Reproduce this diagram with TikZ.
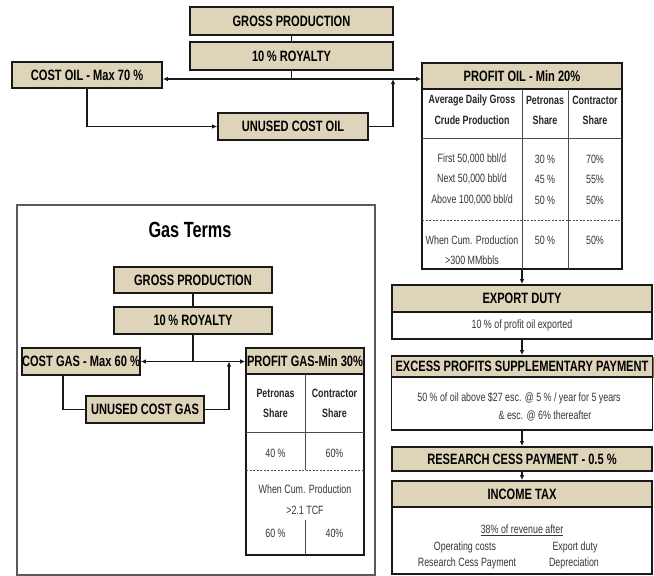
\documentclass[tikz,border=0pt]{standalone}
\usepackage{fontspec}
\setmainfont{Liberation Sans}[FakeStretch=0.74]
\usetikzlibrary{arrows.meta,shadows}
\definecolor{tanfill}{RGB}{222,212,186}
\definecolor{bodytxt}{RGB}{55,55,55}
\definecolor{edgecol}{RGB}{25,25,25}
\definecolor{framecol}{RGB}{90,90,90}
\begin{document}
\begin{tikzpicture}[x=1pt,y=-1pt,
 hdr/.style={draw=edgecol, line width=1.7pt, fill=tanfill, inner sep=0pt, font=\fontsize{15}{17}\selectfont\bfseries, text=black,
   drop shadow={shadow xshift=1pt, shadow yshift=-1pt, opacity=0.55, fill=black}},
 bodybox/.style={draw=edgecol, line width=1.7pt, fill=white, inner sep=0pt},
 txt/.style={inner sep=0pt, font=\fontsize{12}{14}\selectfont, text=bodytxt},
 btxt/.style={inner sep=0pt, font=\fontsize{12}{14}\selectfont\bfseries, text=black!85},
 conn/.style={line width=1.1pt, draw=edgecol},
 arr/.style={conn, -{Latex[length=5pt,width=4.5pt]}},
 gridline/.style={line width=0.9pt, draw=black!70},
 dgridline/.style={gridline, dash pattern=on 2pt off 1.5pt},
 frame/.style={draw=framecol, line width=1.4pt, inner sep=0pt},
]
\fill[white] (0,0) rectangle (654,576);
\useasboundingbox (0,0) rectangle (654,576);

% ---------- Oil terms ----------
\node[hdr, minimum width=203, minimum height=28] (gross) at (291.5,21) {GROSS PRODUCTION};
\node[hdr, minimum width=203, minimum height=28] (royalty) at (291.5,56) {10\,\% ROYALTY};
\node[hdr, minimum width=150, minimum height=26] (costoil) at (87,75) {COST OIL - Max 70 \%};
\node[hdr, minimum width=150, minimum height=27] (unused) at (293,126.5) {UNUSED COST OIL};
\node[hdr, minimum width=200, minimum height=26] (profithdr) at (522,76) {PROFIT OIL - Min 20\%};
\node[bodybox, minimum width=200, minimum height=180] (profittab) at (522,179) {};

\draw[gridline] (422,138) -- (622,138);
\draw[dgridline] (422,220) -- (622,220);
\draw[gridline] (522,89) -- (522,269);
\draw[gridline] (568,89) -- (568,269);

\node[btxt] (h1a) at (472,100) {Average Daily Gross};
\node[btxt] (h1b) at (472,120) {Crude Production};
\node[btxt] (h2a) at (545,100) {Petronas};
\node[btxt] (h2b) at (545,120) {Share};
\node[btxt] (h3a) at (595,100) {Contractor};
\node[btxt] (h3b) at (595,120) {Share};
\node[txt] (r1a) at (472,159) {First 50,000 bbl/d};
\node[txt] (r2a) at (472,179) {Next 50,000 bbl/d};
\node[txt] (r3a) at (472,200) {Above 100,000 bbl/d};
\node[txt] (r1b) at (545,159) {30 \%};
\node[txt] (r2b) at (545,179) {45 \%};
\node[txt] (r3b) at (545,200) {50 \%};
\node[txt] (r1c) at (595,159) {70\%};
\node[txt] (r2c) at (595,179) {55\%};
\node[txt] (r3c) at (595,200) {50\%};
\node[txt] (r4a) at (472,240) {When Cum. Production};
\node[txt] (r4a2) at (472,260) {>300 MMbbls};
\node[txt] (r4b) at (545,240) {50 \%};
\node[txt] (r4c) at (595,240) {50\%};

\draw[conn] (gross.south) -- (royalty.north);
\coordinate (oj) at (291.5,79);
\draw[conn] (royalty.south) -- (oj);
\draw[arr] (oj) -- (oj -| costoil.east);
\draw[arr] (oj) -- (oj -| profithdr.west);
\draw[arr] (costoil.south) |- (unused.west);
\coordinate (ok) at (393,79);
\draw[arr] (unused.east) -| (ok);

% ---------- Right column ----------
\node[hdr, minimum width=260, minimum height=27] (exphdr) at (522,298.5) {EXPORT DUTY};
\node[bodybox, minimum width=260, minimum height=27, txt] (expbody) at (522,325.5) {10 \% of profit oil exported};
\node[hdr, minimum width=261, minimum height=21] (exchdr) at (522,366.5) {EXCESS PROFITS SUPPLEMENTARY PAYMENT};
\node[bodybox, minimum width=261, minimum height=53] (excbody) at (522,403.5) {};
\node[txt] (exc1) at (519,398) {50 \% of oil above \$27 esc. @ 5 \% / year for 5 years};
\node[txt] (exc2) at (545,416) {\& esc. @ 6\% thereafter};
\node[hdr, minimum width=260, minimum height=24] (research) at (522,459) {RESEARCH CESS PAYMENT - 0.5 \%};
\node[hdr, minimum width=260, minimum height=26] (inchdr) at (522,494) {INCOME TAX};
\node[bodybox, minimum width=260, minimum height=67] (incbody) at (522,540.5) {};
\node[txt] (inc0) at (522,530) {\underline{38\% of revenue after}};
\node[txt] (inc1) at (465,547) {Operating costs};
\node[txt] (inc2) at (575,547) {Export duty};
\node[txt] (inc3) at (467,563) {Research Cess Payment};
\node[txt] (inc4) at (574,563) {Depreciation};

\draw[arr] (profittab.south) -- (exphdr.north);
\draw[arr] (expbody.south) -- (exchdr.north);
\draw[arr] (excbody.south) -- (research.north);
\draw[arr] (research.south) -- (inchdr.north);

% ---------- Gas terms ----------
\node[frame, minimum width=358, minimum height=370] (gasframe) at (196,390) {};
\node[inner sep=0pt, font=\fontsize{22}{24}\selectfont\bfseries] (gastitle) at (190,230) {Gas Terms};
\node[hdr, minimum width=158, minimum height=26] (ggross) at (193,280) {GROSS PRODUCTION};
\node[hdr, minimum width=158, minimum height=27] (groyalty) at (193,320.5) {10\,\% ROYALTY};
\node[hdr, minimum width=118, minimum height=27] (costgas) at (81,361.5) {COST GAS - Max 60 \%};
\node[hdr, minimum width=118, minimum height=26] (profitgas) at (305,361) {PROFIT GAS-Min 30\%};
\node[bodybox, minimum width=118, minimum height=181] (gastab) at (305,464.5) {};
\node[hdr, minimum width=118, minimum height=27] (unusedgas) at (145,409.5) {UNUSED COST GAS};

\draw[gridline] (246,432) -- (364,432);
\draw[dgridline] (246,470) -- (364,470);
\draw[gridline] (305,374) -- (305,470);
\draw[gridline] (305,520) -- (305,555);

\node[btxt] (g1a) at (275.5,393) {Petronas};
\node[btxt] (g1b) at (275.5,413) {Share};
\node[btxt] (g2a) at (334.5,393) {Contractor};
\node[btxt] (g2b) at (334.5,413) {Share};
\node[txt] (g3a) at (275.5,453) {40 \%};
\node[txt] (g3b) at (334.5,453) {60\%};
\node[txt] (g4) at (305,489) {When Cum. Production};
\node[txt] (g5) at (305,510) {>2.1 TCF};
\node[txt] (g6a) at (275.5,533) {60 \%};
\node[txt] (g6b) at (334.5,533) {40\%};

\draw[conn] (ggross.south) -- (groyalty.north);
\coordinate (gj) at (193,361.5);
\draw[conn] (groyalty.south) -- (gj);
\draw[arr] (gj) -- (costgas.east);
\draw[arr] (gj) -- (gj -| profitgas.west);
\draw[conn] ([xshift=-18pt]costgas.south) |- (unusedgas.west);
\coordinate (gk) at (229,361.5);
\draw[arr] (unusedgas.east) -| (gk);
\end{tikzpicture}
\end{document}
